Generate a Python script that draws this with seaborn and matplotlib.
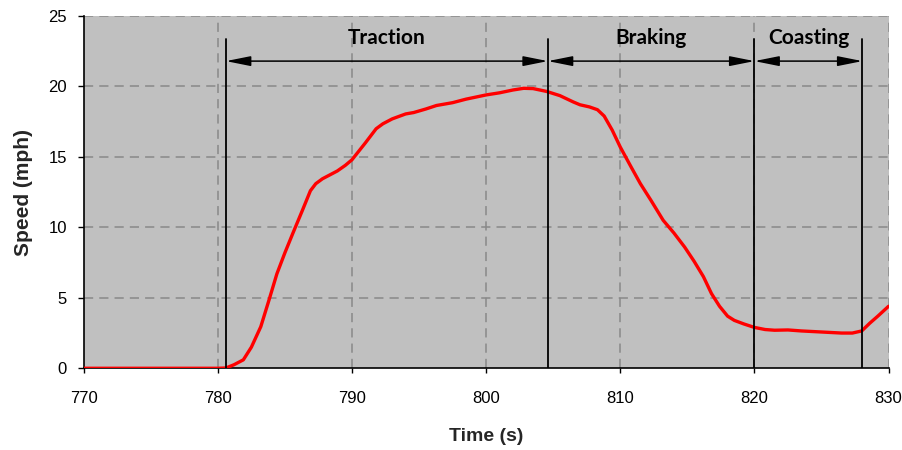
import matplotlib
matplotlib.use("Agg")
import matplotlib.pyplot as plt
import seaborn as sns
import pandas as pd

# ---- data ----
time_s = [770, 775, 780, 780.6, 781.2, 781.9, 782.5, 783.2, 783.8, 784.4, 785.0,
          785.6, 786.3, 786.9, 787.3, 787.8, 788.4, 788.9, 789.5, 790.0, 791.0,
          791.8, 792.3, 793.0, 794.0, 794.6, 795.5, 796.3, 797.5, 798.5, 800.0,
          801.0, 802.0, 802.8, 803.5, 804.5, 805.5, 806.5, 807.0, 807.7, 808.3,
          808.8, 809.4, 810.0, 810.8, 811.5, 812.3, 813.2, 814.0, 814.8, 815.5,
          816.2, 816.8, 817.4, 818.0, 818.5, 819.2, 820.0, 820.8, 821.5, 822.5,
          823.5, 824.5, 825.5, 826.5, 827.3, 828.0, 828.6, 829.2, 830.0]
speed_mph = [0, 0, 0, 0.02, 0.25, 0.6, 1.5, 2.95, 4.8, 6.7, 8.2,
             9.6, 11.2, 12.6, 13.1, 13.45, 13.75, 14.0, 14.4, 14.8, 16.0,
             17.0, 17.35, 17.7, 18.05, 18.15, 18.4, 18.65, 18.85, 19.1, 19.4,
             19.55, 19.75, 19.87, 19.85, 19.65, 19.35, 18.9, 18.7, 18.55, 18.35,
             17.9, 16.9, 15.7, 14.3, 13.1, 11.9, 10.5, 9.6, 8.6, 7.6,
             6.5, 5.3, 4.4, 3.7, 3.4, 3.15, 2.9, 2.75, 2.7, 2.72,
             2.65, 2.6, 2.55, 2.5, 2.5, 2.65, 3.2, 3.7, 4.4]

phase_names = ["Traction", "Braking", "Coasting"]
phase_bounds = [780.6, 804.6, 820.0, 828.05]
x_ticks = [770, 780, 790, 800, 810, 820, 830]
y_ticks = [0, 5, 10, 15, 20, 25]

df = pd.DataFrame({"Time (s)": time_s, "Speed (mph)": speed_mph})

sns.set_style("ticks")
plt.rcParams["font.family"] = ["Liberation Sans", "DejaVu Sans"]

fig = plt.figure(figsize=(9.03, 4.5), dpi=100)
ax = fig.add_axes([0.0927, 0.1816, 0.8913, 0.7828])
ax.set_facecolor("#C0C0C0")

sns.lineplot(data=df, x="Time (s)", y="Speed (mph)", ax=ax, color="#FF0000",
             linewidth=2.4, zorder=5)

ax.set_xlim(770, 830)
ax.set_ylim(0, 25)
ax.set_xticks(x_ticks)
ax.set_yticks(y_ticks)

grid_kw = dict(color="#888888", linewidth=1.1, linestyle=(0, (6, 4)), zorder=1)
for xv in x_ticks[1:]:
    ax.axvline(xv, **grid_kw)
for yv in y_ticks[1:]:
    ax.axhline(yv, **grid_kw)

for sp in ["top", "right"]:
    ax.spines[sp].set_visible(False)
for sp in ["left", "bottom"]:
    ax.spines[sp].set_color("black")
    ax.spines[sp].set_linewidth(1.2)

ax.tick_params(axis="x", direction="out", length=3.5, width=1, pad=13,
               labelsize=12, colors="black")
ax.tick_params(axis="y", direction="out", length=4, width=1, pad=8,
               labelsize=12, colors="black")

ax.set_xlabel("Time (s)", fontsize=14, fontweight="bold", labelpad=16)
ax.set_ylabel("Speed (mph)", fontsize=15, fontweight="bold", labelpad=11)

line_top = 23.4
arrow_y = 21.8
for b in phase_bounds:
    ax.plot([b, b], [0, line_top], color="black", linewidth=1.3, zorder=6)

for i, name in enumerate(phase_names):
    x0, x1 = phase_bounds[i], phase_bounds[i + 1]
    ax.annotate("", xy=(x0, arrow_y), xytext=(x1, arrow_y),
                arrowprops=dict(arrowstyle="<|-|>,head_length=1.5,head_width=0.3",
                                mutation_scale=10, color="black", lw=1.1,
                                shrinkA=0, shrinkB=0), zorder=6)
    ax.text((x0 + x1) / 2, 23.45, name, ha="center", va="center",
            fontsize=15, fontweight="bold", family=["Lato", "DejaVu Sans"],
            color="black", zorder=7)

fig.savefig("out.png", dpi=100)
